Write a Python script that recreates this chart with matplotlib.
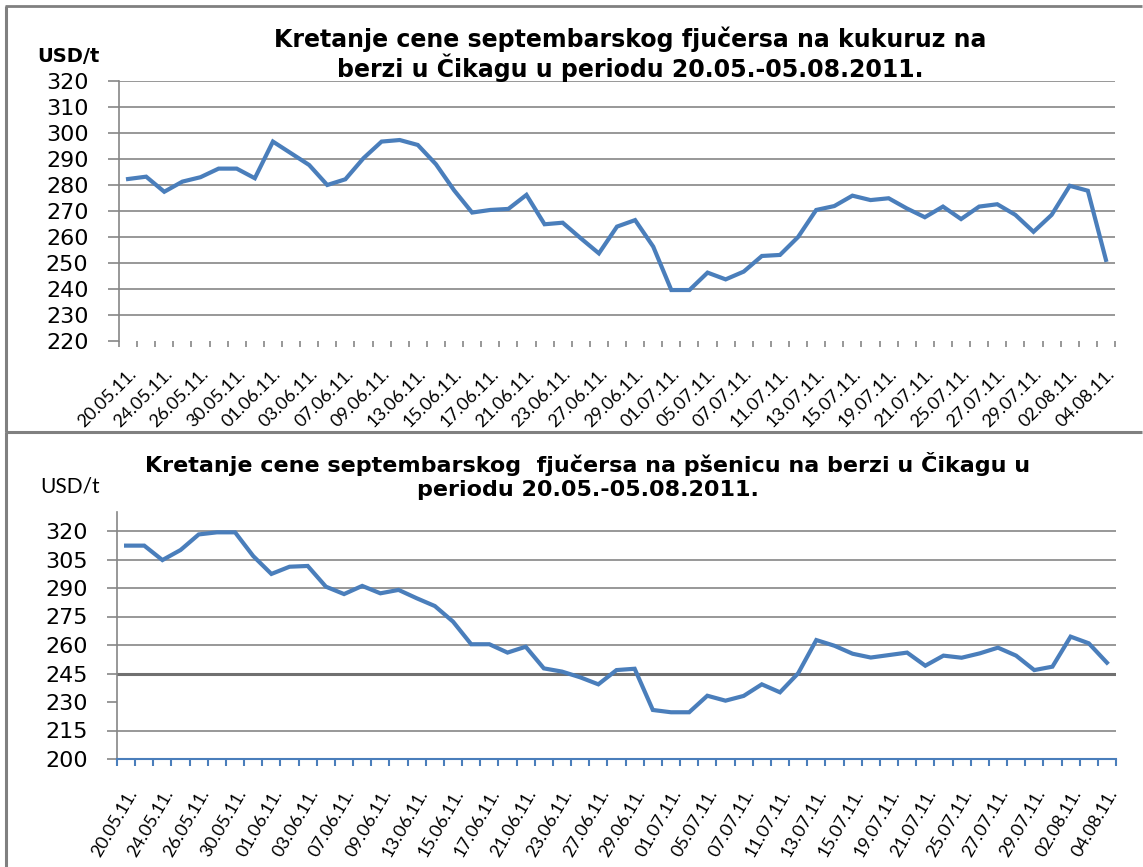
import matplotlib
matplotlib.use('Agg')
import matplotlib.pyplot as plt
from matplotlib.lines import Line2D

# dates (every trading day, labels shown on every second one)
dates = ['20.05.11.', '23.05.11.', '24.05.11.', '25.05.11.', '26.05.11.', '27.05.11.',
         '30.05.11.', '31.05.11.', '01.06.11.', '02.06.11.', '03.06.11.', '06.06.11.',
         '07.06.11.', '08.06.11.', '09.06.11.', '10.06.11.', '13.06.11.', '14.06.11.',
         '15.06.11.', '16.06.11.', '17.06.11.', '20.06.11.', '21.06.11.', '22.06.11.',
         '23.06.11.', '24.06.11.', '27.06.11.', '28.06.11.', '29.06.11.', '30.06.11.',
         '01.07.11.', '04.07.11.', '05.07.11.', '06.07.11.', '07.07.11.', '08.07.11.',
         '11.07.11.', '12.07.11.', '13.07.11.', '14.07.11.', '15.07.11.', '18.07.11.',
         '19.07.11.', '20.07.11.', '21.07.11.', '22.07.11.', '25.07.11.', '26.07.11.',
         '27.07.11.', '28.07.11.', '29.07.11.', '01.08.11.', '02.08.11.', '03.08.11.',
         '04.08.11.']

# kukuruz (corn), USD/t
corn = [282.3, 283.2, 277.4, 281.3, 283.0, 286.3, 286.3, 282.6, 296.7, 292.2,
        287.7, 280.0, 282.2, 290.3, 296.7, 297.3, 295.4, 288.0, 278.0, 269.4,
        270.4, 270.8, 276.2, 264.9, 265.5, 259.5, 253.7, 264.0, 266.5, 256.3,
        239.6, 239.6, 246.3, 243.7, 246.7, 252.7, 253.1, 260.0, 270.4, 271.9,
        275.9, 274.2, 274.9, 271.0, 267.6, 271.7, 266.9, 271.7, 272.6, 268.5,
        262.0, 268.5, 279.7, 277.8, 251.2]

# psenica (wheat), USD/t
wheat = [312.3, 312.3, 304.7, 310.0, 318.2, 319.3, 319.3, 306.8, 297.4, 301.2,
         301.6, 290.7, 286.8, 291.1, 287.2, 289.0, 284.6, 280.5, 272.3, 260.4,
         260.4, 256.0, 259.1, 247.7, 246.0, 243.0, 239.3, 246.8, 247.5, 225.8,
         224.6, 224.6, 233.3, 230.7, 233.2, 239.3, 235.1, 245.1, 262.6, 259.6,
         255.4, 253.4, 254.7, 256.0, 249.1, 254.4, 253.3, 255.6, 258.6, 254.4,
         246.8, 248.6, 264.4, 260.9, 250.7]

title_corn = 'Kretanje cene septembarskog fjučersa na kukuruz na\nberzi u Čikagu u periodu 20.05.-05.08.2011.'
title_wheat = 'Kretanje cene septembarskog  fjučersa na pšenicu na berzi u Čikagu u\nperiodu 20.05.-05.08.2011.'

line_col = '#4a7ebb'
grid_col = '#868686'
frame_col = '#808080'

W, H = 1143, 867
fig = plt.figure(figsize=(W / 100, H / 100), dpi=100)


def fx(px):
    return px / W


def fy(py):
    return 1 - py / H


x = list(range(len(dates)))
lab_pos = x[::2]
lab_txt = dates[::2]
bounds = [i - 0.5 for i in range(len(dates) + 1)]

# ---------------- gornji grafikon: kukuruz ----------------
ax1 = fig.add_axes([fx(119), fy(341), fx(1115) - fx(119), fy(81) - fy(341)])
ax1.plot(x, corn, color=line_col, linewidth=3.0, solid_joinstyle='miter')
ax1.set_xlim(-0.5, len(dates) - 0.5)
ax1.set_ylim(220, 320)
ax1.set_yticks(range(220, 321, 10))
ax1.yaxis.grid(True, color=grid_col, linewidth=1.2)
ax1.set_axisbelow(True)
for s in ['top', 'right', 'bottom']:
    ax1.spines[s].set_visible(False)
ax1.spines['left'].set_color(grid_col)
ax1.spines['left'].set_linewidth(1.2)
ax1.tick_params(axis='y', length=8, width=1.2, color=grid_col, pad=14,
                labelsize=16, labelcolor='black')
ax1.set_xticks(lab_pos)
ax1.set_xticklabels(lab_txt, rotation=45, ha='right', rotation_mode='anchor',
                    family='Lato', fontsize=13)
ax1.tick_params(axis='x', which='major', length=0, pad=18)
ax1.set_xticks(bounds, minor=True)
ax1.tick_params(axis='x', which='minor', length=4, width=1.2, color=grid_col)
ax1.get_ygridlines()[0].set_visible(False)

fig.text(fx(630), fy(54), title_corn, ha='center', va='center',
         fontsize=17, fontweight='bold', linespacing=1.05)
fig.text(fx(37), fy(56), 'USD/t', ha='left', va='center', fontsize=14,
         fontweight='bold')

# ---------------- donji grafikon: psenica ----------------
ax2 = fig.add_axes([fx(117), fy(759), fx(1116) - fx(117), fy(512) - fy(759)])
ax2.plot(x, wheat, color=line_col, linewidth=3.0, solid_joinstyle='miter')
ax2.set_xlim(-0.5, len(dates) - 0.5)
ax2.set_ylim(200, 330)
ax2.set_yticks(range(200, 321, 15))
ax2.yaxis.grid(True, color=grid_col, linewidth=1.2)
ax2.set_axisbelow(True)
for s in ['top', 'right']:
    ax2.spines[s].set_visible(False)
ax2.spines['left'].set_color(grid_col)
ax2.spines['left'].set_linewidth(1.2)
ax2.spines['bottom'].set_color(line_col)
ax2.spines['bottom'].set_linewidth(1.5)
ax2.tick_params(axis='y', length=7, width=1.2, color=grid_col, pad=14,
                labelsize=16, labelcolor='black')
ax2.set_xticks(lab_pos)
ax2.set_xticklabels(lab_txt, rotation=60, ha='right', rotation_mode='anchor',
                    family='Lato', fontsize=13)
ax2.tick_params(axis='x', which='major', length=0, pad=20)
ax2.set_xticks(bounds, minor=True)
ax2.tick_params(axis='x', which='minor', length=5, width=1.5, color=line_col)
# izgled mreze kao na originalu: 245 tamnija, 230 se ne vidi
for val, gl in zip(ax2.get_yticks(), ax2.get_ygridlines()):
    if val == 245:
        gl.set_color('#707070')
        gl.set_linewidth(2.2)
    if val == 230 or val == 200:
        gl.set_visible(False)

fig.text(fx(588), fy(476), title_wheat, ha='center', va='center',
         fontsize=16, fontweight='bold', linespacing=1.25)
fig.text(fx(40), fy(486), 'USD/t', ha='left', va='center', family='Lato',
         fontsize=15)

# okviri
right = fx(W - 1)
fig.add_artist(Line2D([fx(5), right], [fy(6), fy(6)], color=frame_col,
                      linewidth=2, solid_capstyle='butt'))
fig.add_artist(Line2D([fx(6), fx(6)], [fy(6), fy(432)], color=frame_col,
                      linewidth=2.2, solid_capstyle='butt'))
fig.add_artist(Line2D([fx(5), right], [fy(432), fy(432)], color=frame_col,
                      linewidth=2.2, solid_capstyle='butt'))
fig.add_artist(Line2D([fx(6), fx(6)], [fy(432), 0.0], color=frame_col,
                      linewidth=2.2, solid_capstyle='butt'))

fig.savefig('out.png', dpi=100)
